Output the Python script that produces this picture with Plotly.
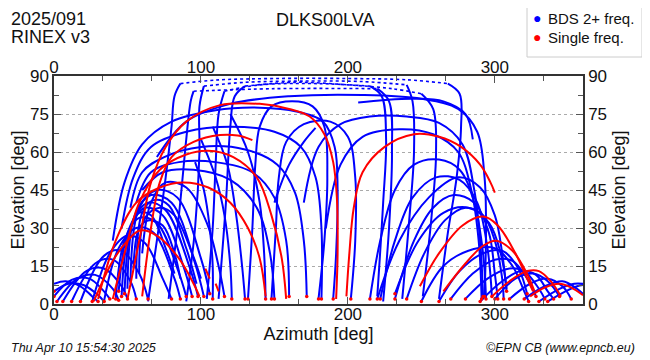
import plotly.graph_objects as go

# ---------------- data (azimuth, elevation) ----------------
# low east arcs
b1 = [(0,8),(8,9),(18,7),(26,3),(30,1)]
b2 = [(0,5),(10,8),(20,7.5),(30,3.5),(34,1)]
b3 = [(0,3),(12,9.5),(24,10),(34,5),(38,2)]
b4 = [(2,1),(16,10),(28,11.5),(40,6),(44,1.5)]
b5 = [(6,1),(22,13),(34,14),(46,7),(50,2)]
b6 = [(12,1),(28,16),(40,17.5),(52,9),(56,2)]
b7 = [(18,1),(34,19),(46,21),(58,12),(64,2)]
# east cluster
b8 = [(26,1),(38,20),(50,27),(62,24),(74,10),(80,2)]
b9 = [(34,1),(44,22),(56,30),(68,28),(82,10),(86,2)]
b10 = [(42,2),(48,25),(58,34),(70,32),(84,14),(90,3)]
b11 = [(46,3),(52,30),(62,38),(74,35),(88,15),(94,3)]
b12 = [(48,4),(54,33),(64,40),(76,37),(92,15),(98,3)]
b13 = [(50,6),(55,35),(66,43),(80,40),(96,16),(102,3)]
b14 = [(52,8),(58,38),(70,45),(84,42),(100,18),(106,4)]
b15 = [(56,10),(60,36),(68,41),(78,39),(90,22),(97,8)]
b16 = [(58,12),(62,34),(72,38),(82,35),(94,20),(100,10)]
b17 = [(44,5),(50,28),(58,36),(66,35),(76,22),(82,12)]
b18 = [(54,14),(58,30),(64,33),(74,31),(82,20),(86,10)]
b19 = [(60,20),(66,40),(76,48),(90,46),(104,32),(112,15),(116,3)]
# big arcs from east to south
a1 = [(40,25),(48,48),(60,63),(80,72),(110,76.5),(140,77.5),(165,76),(183,72),(191,62),(193,45),(192,20),(190,2)]
a2 = [(46,30),(54,50),(66,62),(90,68),(120,70),(150,68),(168,62),(178,50),(182,30),(182,2)]
a3 = [(52,38),(60,52),(75,58),(100,62),(130,61),(152,55),(164,44),(170,25),(172,3)]
a4 = [(56,40),(66,52),(85,56),(110,56),(135,52),(150,42),(158,25),(160,3)]
a5 = [(60,45),(74,52),(95,53),(120,49),(138,38),(147,20),(150,2)]
a6 = [(70,58),(90,72),(120,79),(160,82),(210,82.5),(250,81),(275,77),(288,68),(293,50),(294,30),(293,3)]
# middle passes
m1 = [(132,2),(135,30),(137,55),(140,70),(148,78),(162,80),(176,78),(184,70),(186,50),(184,25),(180,2)]
m2 = [(148,2),(151,30),(153,50),(158,64),(170,71),(188,72),(200,66),(205,50),(205,25),(202,2)]
d1 = [(96,56),(102,45),(106,30),(108,15),(108,2)]
d2 = [(100,65),(110,50),(116,35),(120,15),(121,2)]
d3 = [(108,70),(118,55),(124,35),(128,15),(130,2)]
d4 = [(120,75),(132,60),(140,40),(143,20),(144,2)]
s1 = [(207,79.5),(225,80.5),(245,81),(265,80),(280,75),(285,65)]
s2 = [(150,40),(160,55),(170,64),(178,69.5)]
# west side
w1 = [(170,40),(180,62),(195,71),(215,74),(240,74),(262,71.5),(278,63),(286,45),(290,25),(292,3)]
w2 = [(185,30),(195,55),(210,66),(235,69),(258,67),(275,60),(284,45),(289,25),(291,2)]
w3 = [(215,2),(222,25),(232,45),(245,55),(262,57),(276,53),(286,40),(292,20),(294,2)]
w4 = [(222,2),(232,25),(244,42),(260,50),(276,49),(288,40),(295,22),(298,3)]
w5 = [(232,2),(245,25),(258,38),(272,43),(286,40),(296,28),(300,12),(302,2)]
w6 = [(240,2),(252,20),(266,33),(280,38),(292,35),(300,25),(305,10),(306,2)]
r1 = [(220,2),(235,25),(255,42),(275,50),(290,46),(300,35),(305,20),(308,5)]
r2 = [(232,4),(248,25),(265,36),(282,38),(296,32),(304,20),(308,6)]
r3 = [(250,1),(265,15),(282,21),(300,22),(312,15),(320,5),(323,1)]
r4 = [(262,1),(276,13),(292,20),(305,21),(316,14),(322,4)]
r5 = [(270,2),(285,12),(300,17.5),(312,17),(322,10),(328,3)]
r6 = [(280,2),(295,10),(310,14),(320,13),(330,6),(334,2)]
r7 = [(290,1),(305,9),(318,13),(328,11.5),(336,5),(340,2)]
r8 = [(300,2),(314,10),(326,12),(336,9),(344,3)]
r9 = [(310,2),(324,8),(336,10),(346,7),(352,2)]
r10 = [(320,2),(334,7),(346,9),(356,6),(360,4)]
r11 = [(330,1),(344,6),(354,8),(360,8)]
r12 = [(336,1),(348,5),(356,7),(360,7.5)]

# near-zenith passes: rising leg, top (sparse samples), setting leg
z1 = ([(64,1),(70,25),(76,50),(80,70),(82,82),(86,87)],
      [(86,87),(110,88.4),(150,89),(200,89),(240,88.5),(268,87)],
      [(268,87),(276,83),(277,70),(274,50),(268,28),(262,2)])
z2 = ([(90,1),(96,30),(99,60),(99,78),(102,86)],
      [(102,86),(130,87.5),(170,88),(210,87.8),(240,86.5)],
      [(240,86.5),(244,80),(245,60),(242,35),(237,2)])
z3 = ([(104,2),(108,30),(110,55),(112,75),(116,84)],
      [(116,84),(140,86.5),(180,87),(215,86)],
      [(215,86),(223,82),(226,65),(224,40),(220,3)])
z4 = ([(112,2),(117,40),(120,70),(123,82),(130,86)],
      [(130,86),(165,87.5),(200,86.5),(230,85),(250,83)],
      [(250,83),(258,77),(260,60),(257,35),(251,3)])
z5 = ([(78,2),(85,35),(90,65),(93,80),(95,84)],
      [(95,84),(150,85),(220,85)],
      [(220,85),(228,80),(230,60),(228,30),(224,1)])

# single-frequency tracks
red1 = [(50,2),(58,25),(66,48),(76,62),(90,72),(113,78.5),(140,79),(160,77),(174,74),(184,67),(190,56),(192.5,42),(193,20),(192,2)]
red2 = [(60,3),(66,30),(72,48),(80,58),(95,64),(113,66.7),(125,66.5),(135,64.7)]
red3 = [(40,2),(48,20),(58,40),(72,53),(90,59),(105,60.5),(122,58),(138,50),(148,35),(155,18),(158,2)]
red4 = [(30,2),(42,25),(56,40),(72,46),(88,48),(105,46),(120,40),(132,30),(140,18),(144,3)]
red5 = [(27,1),(40,17),(50,25),(58.5,29),(70,27),(85,18),(95,8),(99,3)]
red6 = [(199,3),(201,20),(204,38),(210,52),(225,62),(245,67),(262,66),(277,62),(290,55),(297,48),(300,44)]
red7 = [(249,7),(262,20),(278,31),(292,34.5),(302,31),(314,20),(322,10),(326,5)]
red8 = [(265,5),(280,16),(292,23),(301,25),(312,21),(321,13),(327,5)]
red9 = [(298,3),(310,9),(322,13),(330,13),(338,9),(345,3)]
red10 = [(324,3),(334,6.5),(344,8),(352,6.5),(360,3.5)]
red11 = [(103,14),(106,10)]
red12 = [(110,8),(112,5)]

blue_tracks = [b1,b2,b3,b4,b5,b6,b7,b8,b9,b10,b11,b12,b13,b14,b15,b16,b17,b18,b19,
               a1,a2,a3,a4,a5,a6,m1,m2,d1,d2,d3,d4,s1,s2,
               w1,w2,w3,w4,w5,w6,r1,r2,r3,r4,r5,r6,r7,r8,r9,r10,r11,r12]
zenith_tracks = [z1,z2,z3,z4,z5]
red_tracks = [red1,red2,red3,red4,red5,red6,red7,red8,red9,red10,red11,red12]

x_ticks = [0, 100, 200, 300]
y_ticks = [0, 15, 30, 45, 60, 75, 90]
legend_labels = ["BDS 2+ freq.", "Single freq."]

BLUE = "#0000ff"
RED = "#ff0000"
FONT = "Liberation Sans, Arial, sans-serif"

fig = go.Figure()

def add_line(pts, color, dash="solid", width=2.0):
    fig.add_trace(go.Scatter(x=[p[0] for p in pts], y=[p[1] for p in pts],
                             mode="lines", line=dict(color=color, width=width, dash=dash,
                                                     shape="spline", smoothing=1.0),
                             showlegend=False, hoverinfo="skip"))

for t in blue_tracks:
    add_line(t, BLUE)
for leg1, top, leg2 in zenith_tracks:
    add_line(leg1, BLUE)
    add_line(top, BLUE, dash="dot", width=1.6)
    add_line(leg2, BLUE)
for t in red_tracks:
    add_line(t, RED)

# red tips at low-elevation ends of dual-frequency tracks
tips = []
for t in blue_tracks:
    for p in (t[0], t[-1]):
        if p[1] <= 5 and p[0] < 359:
            tips.append(p)
fig.add_trace(go.Scatter(x=[p[0] for p in tips], y=[p[1] for p in tips], mode="markers",
                         marker=dict(color=RED, size=3.5), showlegend=False, hoverinfo="skip"))

# secondary axes carrier
fig.add_trace(go.Scatter(x=[None], y=[None], xaxis="x2", yaxis="y2", showlegend=False))

axis_common = dict(showline=True, linecolor="#333333", linewidth=1.5, ticks="inside",
                   ticklen=7, tickcolor="#555555", tickwidth=1, automargin=False,
                   tickfont=dict(family=FONT, size=17, color="#111111"), zeroline=False)
minor_x = dict(dtick=100/3, tick0=0, ticks="inside", ticklen=5, tickcolor="#555555")
minor_y = dict(dtick=7.5, tick0=0, ticks="inside", ticklen=5, tickcolor="#555555")

# the page body adds an 8 px offset; figure is sized so the page shows 650x360
fig.update_layout(
    width=642, height=352,
    margin=dict(l=46, r=67, t=68, b=56),
    paper_bgcolor="white", plot_bgcolor="white",
    font=dict(family=FONT, color="#111111"),
    xaxis=dict(range=[0, 360], tickvals=x_ticks, showgrid=False, minor=minor_x,
               ticklabelstandoff=-6,
               title=dict(text="Azimuth [deg]", font=dict(size=18), standoff=0),
               **axis_common),
    xaxis2=dict(range=[0, 360], tickvals=x_ticks, showgrid=False, overlaying="x", side="top",
                anchor="y", minor=minor_x, ticklabelstandoff=-6, **axis_common),
    yaxis=dict(range=[0, 90], tickvals=y_ticks, showgrid=True, gridcolor="#aaaaaa",
               griddash="dot", gridwidth=1, minor=minor_y,
               title=dict(text="Elevation [deg]", font=dict(size=18), standoff=6),
               **axis_common),
    yaxis2=dict(range=[0, 90], tickvals=y_ticks, showgrid=False, overlaying="y", side="right",
                anchor="x", minor=minor_y,
                title=dict(text="Elevation [deg]", font=dict(size=18), standoff=6),
                **axis_common),
    showlegend=False,
)

def px_x(px):
    return (px - 54) / 529.0

def px_y(py):
    return (304 - py) / 228.0

def note(text, x, y, xanchor="left", size=18, italic=False, color="#111111"):
    fig.add_annotation(text=(f"<i>{text}</i>" if italic else text), x=x, y=y,
                       xref="paper", yref="paper", xanchor=xanchor, yanchor="middle",
                       showarrow=False, font=dict(family=FONT, size=size, color=color))

# manual legend box
fig.add_shape(type="rect", xref="paper", yref="paper", x0=px_x(527), x1=px_x(642),
              y0=px_y(57), y1=px_y(4), line=dict(color="#cccccc", width=1), fillcolor="white")
note("●", px_x(531), px_y(18), size=14, color=BLUE)
note("●", px_x(531), px_y(37), size=14, color=RED)
note(legend_labels[0], px_x(546), px_y(18), size=15)
note(legend_labels[1], px_x(546), px_y(37), size=15)

note("DLKS00LVA", px_x(325), px_y(20), xanchor="center")
note("2025/091", px_x(9), px_y(19))
note("RINEX v3", px_x(9), px_y(37))
note("Thu Apr 10 15:54:30 2025", px_x(9), px_y(348), size=12.5, italic=True)
note("©EPN CB (www.epncb.eu)", px_x(637), px_y(348), xanchor="right", size=12.5, italic=True)

fig.write_html("out.html")
